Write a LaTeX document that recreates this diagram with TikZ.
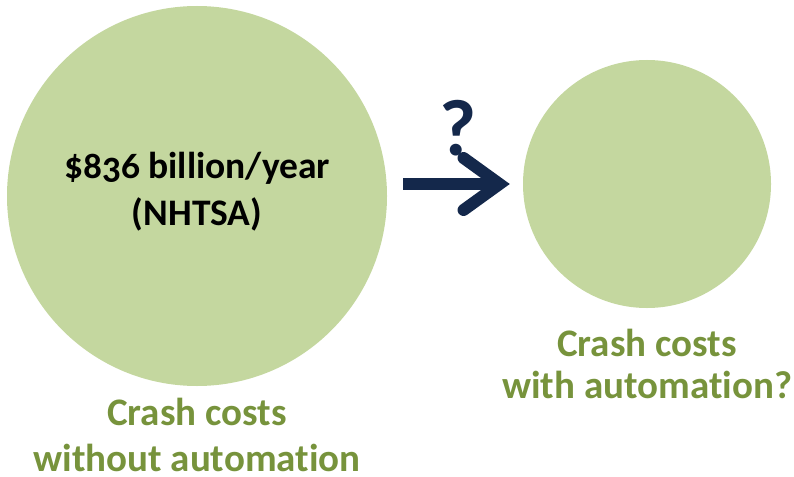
\documentclass[tikz,border=0pt]{standalone}
\usepackage{fontspec}
\setmainfont{Carlito}[Ligatures=NoCommon]
\usetikzlibrary{positioning,arrows.meta}
\definecolor{bubblegreen}{HTML}{C4D79F}
\definecolor{labelgreen}{HTML}{77933C}
\definecolor{arrownavy}{HTML}{14284B}

\begin{document}
\begin{tikzpicture}[
    x=1pt, y=-1pt,
    bubble/.style={circle, fill=bubblegreen, inner sep=0pt},
    amount/.style={align=center, inner sep=0pt, font=\bfseries\fontsize{37.5}{47}\selectfont\addfontfeatures{Numbers=OldStyle}},
    caption/.style={align=center, inner sep=0pt, text=labelgreen, font=\bfseries\fontsize{39}{46}\selectfont},
    arrow/.style={-{Straight Barb[length=36pt, width=52pt, line cap=round]}, line width=12pt, draw=arrownavy}
]
\useasboundingbox (0,0) rectangle (794,476);

% Cost circles
\node[bubble, minimum size=380pt] (without) at (197,196) {};
\node[bubble, minimum size=248pt] (with) at (647,184) {};
\node[amount, yshift=4pt] (amount) at (without) {\$836 billion/year\\(NHTSA)};

% Captions under the circles
\node[caption, below=12pt of without] (withoutcap) {Crash costs\\without automation};
\node[caption, below=21pt of with, font=\bfseries\fontsize{39}{42}\selectfont] (withcap) {Crash costs\\with automation?};

% Arrow with question mark
\draw[arrow, shorten <=16pt, shorten >=13pt] (without.east |- with.west) -- (with.west)
    node[midway, above=22pt, xshift=3pt, inner sep=0pt, text=arrownavy, font=\bfseries\fontsize{80}{80}\selectfont] (quest) {?};

\end{tikzpicture}
\end{document}
